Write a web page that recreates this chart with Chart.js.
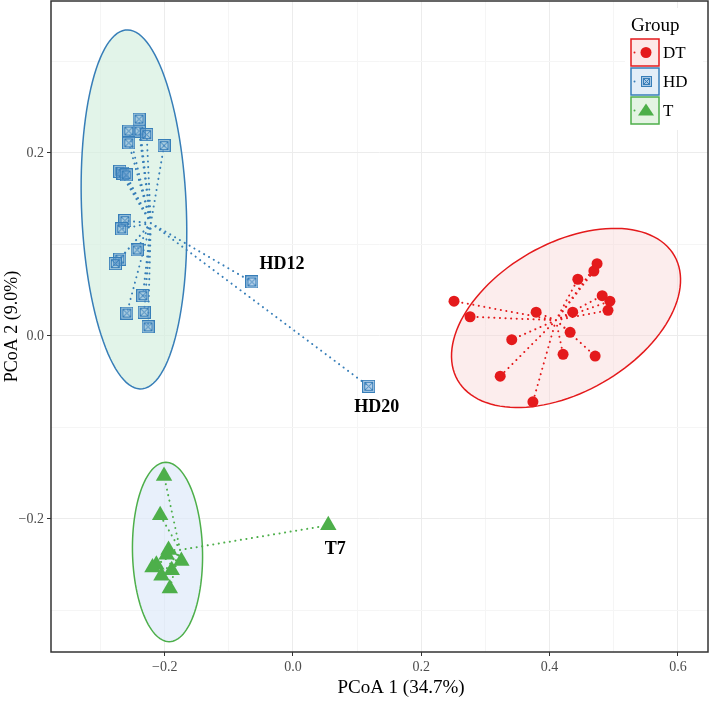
<!DOCTYPE html>
<html>
<head>
<meta charset="utf-8">
<script src="https://cdn.jsdelivr.net/npm/chart.js@4"></script>
<style>
  html, body { margin: 0; padding: 0; background: #fff; }
  #wrap { width: 709px; height: 719px; }
</style>
</head>
<body>
<div id="wrap"><canvas id="myChart" width="709" height="719"></canvas></div>
<script>
// PCoA coordinates per group
const groups = ['DT', 'HD', 'T'];

const dtX = [0.251, 0.276, 0.379, 0.436, 0.444, 0.469, 0.474, 0.482, 0.494, 0.491, 0.432, 0.341, 0.421, 0.471, 0.323, 0.374];
const dtY = [0.038, 0.021, 0.026, 0.026, 0.062, 0.071, 0.079, 0.044, 0.038, 0.028, 0.004, -0.004, -0.020, -0.022, -0.044, -0.072];

const hdX = [-0.240, -0.256, -0.240, -0.228, -0.256, -0.201, -0.270, -0.265, -0.260, -0.262, -0.267, -0.243, -0.270, -0.277, -0.234, -0.259, -0.232, -0.226, -0.064, 0.118];
const hdY = [0.237, 0.224, 0.224, 0.220, 0.211, 0.208, 0.180, 0.178, 0.176, 0.126, 0.117, 0.094, 0.084, 0.079, 0.044, 0.025, 0.026, 0.010, 0.059, -0.055];
const hdNames = ['', '', '', '', '', '', '', '', '', '', '', '', '', '', '', '', '', '', 'HD12', 'HD20'];

const tX = [-0.201, -0.207, 0.055, -0.194, -0.213, -0.219, -0.174, -0.189, -0.205, -0.192, -0.197];
const tY = [-0.153, -0.196, -0.207, -0.234, -0.250, -0.253, -0.246, -0.256, -0.262, -0.276, -0.239];
const tNames = ['', '', 'T7', '', '', '', '', '', '', '', ''];

// 95% ellipses: centre and the two half-axis vectors, in data units
const ellipseCx = [0.4256, -0.2479, -0.1956];
const ellipseCy = [0.0197, 0.1383, -0.2361];
const ellipseU = [[0.1690, 0.0679], [-0.0094, 0.1962], [-0.0026, 0.0980]];
const ellipseV = [[0.0575, -0.0705], [0.0818, -0.0020], [0.0546, 0.0000]];

const xTicks = [-0.2, 0.0, 0.2, 0.4, 0.6];
const yTicks = [-0.2, 0.0, 0.2];
const xTitle = 'PCoA 1 (34.7%)';
const yTitle = 'PCoA 2 (9.0%)';

// styling
const lineCol = ['#e41a1c', '#377eb8', '#4daf4a'];
const ellipseFill = ['rgba(249,215,215,0.45)', 'rgba(214,240,224,0.7)', 'rgba(222,234,250,0.7)'];
const keyFill = ['#fde8e8', '#e3eef8', '#e4f4e3'];
const labelOffset = { HD12: [30, -18], HD20: [8, 21], T7: [7, 24] };
const serif = '"Liberation Serif", "Times New Roman", serif';
const panel = { left: 51, top: 1, right: 708, bottom: 652 };

function toPoints(xs, ys) {
  return xs.map((x, i) => ({ x: x, y: ys[i] }));
}
function spider(xs, ys) {
  const cx = xs.reduce((a, b) => a + b, 0) / xs.length;
  const cy = ys.reduce((a, b) => a + b, 0) / ys.length;
  const out = [];
  xs.forEach((x, i) => {
    out.push({ x: cx, y: cy }, { x: x, y: ys[i] }, { x: cx, y: NaN });
  });
  return out;
}

// square-cross marker for HD
function squareCross(size) {
  const c = document.createElement('canvas');
  c.width = size; c.height = size;
  const g = c.getContext('2d');
  g.fillStyle = 'rgba(120,170,215,0.55)';
  g.fillRect(0, 0, size, size);
  g.strokeStyle = '#377eb8';
  g.lineWidth = 1;
  g.strokeRect(0.5, 0.5, size - 1, size - 1);
  g.strokeRect(2.5, 2.5, size - 5, size - 5);
  g.beginPath();
  g.moveTo(2.5, 2.5); g.lineTo(size - 2.5, size - 2.5);
  g.moveTo(size - 2.5, 2.5); g.lineTo(2.5, size - 2.5);
  g.stroke();
  return c;
}
const hdMarker = squareCross(13);
const hdKeyMarker = squareCross(11);

const isMajor = (v) => Math.abs(Math.round(v * 10)) % 2 === 0;
const fmt = (v) => {
  const s = (Math.round(v * 10) / 10).toFixed(1);
  return s.startsWith('-') ? '\u2212' + s.slice(1) : s;
};
// minor ticks keep their grid line but get an empty (zero-size) label
const tickLabel = (list) => (v) => (list.some((t) => Math.abs(t - v) < 1e-6) ? fmt(v) : []);

// pin the panel to where the original has it
const panelPlugin = {
  id: 'panel',
  afterLayout(chart) {
    const ca = chart.chartArea, xs = chart.scales.x, ys = chart.scales.y;
    ca.left = panel.left; ca.right = panel.right; ca.top = panel.top; ca.bottom = panel.bottom;
    ca.width = panel.right - panel.left; ca.height = panel.bottom - panel.top;
    xs.left = panel.left; xs.right = panel.right; xs.width = ca.width; xs.top = panel.bottom;
    xs.configure();
    ys.top = panel.top; ys.bottom = panel.bottom; ys.height = ca.height; ys.right = panel.left;
    ys.configure();
  }
};

const ellipsePlugin = {
  id: 'ellipses',
  beforeDatasetsDraw(chart) {
    const { ctx, chartArea: a, scales: { x: xs, y: ys } } = chart;
    ctx.save();
    ctx.beginPath();
    ctx.rect(a.left, a.top, a.right - a.left, a.bottom - a.top);
    ctx.clip();
    groups.forEach((g, k) => {
      ctx.beginPath();
      for (let i = 0; i <= 120; i++) {
        const t = (i / 120) * Math.PI * 2;
        const vx = ellipseCx[k] + ellipseU[k][0] * Math.cos(t) + ellipseV[k][0] * Math.sin(t);
        const vy = ellipseCy[k] + ellipseU[k][1] * Math.cos(t) + ellipseV[k][1] * Math.sin(t);
        const px = xs.getPixelForValue(vx), py = ys.getPixelForValue(vy);
        if (i === 0) ctx.moveTo(px, py); else ctx.lineTo(px, py);
      }
      ctx.closePath();
      ctx.fillStyle = ellipseFill[k];
      ctx.fill();
      ctx.strokeStyle = lineCol[k];
      ctx.lineWidth = 1.5;
      ctx.stroke();
    });
    ctx.restore();
  }
};

const overlayPlugin = {
  id: 'overlay',
  afterDraw(chart) {
    const { ctx, chartArea: a, scales: { x: xs, y: ys } } = chart;
    ctx.save();
    // sample labels
    ctx.font = 'bold 18px ' + serif;
    ctx.fillStyle = '#000';
    ctx.textAlign = 'center';
    ctx.textBaseline = 'middle';
    [[hdX, hdY, hdNames], [tX, tY, tNames]].forEach(([xsA, ysA, names]) => {
      names.forEach((n, i) => {
        if (!n) return;
        const off = labelOffset[n];
        ctx.fillText(n, xs.getPixelForValue(xsA[i]) + off[0], ys.getPixelForValue(ysA[i]) + off[1]);
      });
    });

    // x axis title (sits a little right of the panel centre in the original)
    ctx.font = '19px ' + serif;
    ctx.fillText(xTitle, 401, 688);

    // legend
    const lx = 631, ly = 39, bw = 28, bh = 27, gap = 2;
    ctx.fillStyle = '#fff';
    ctx.fillRect(625, 8, 78, 122);
    ctx.font = '19px ' + serif;
    ctx.fillStyle = '#000';
    ctx.textAlign = 'left';
    ctx.fillText('Group', lx, 26);
    ctx.font = '17px ' + serif;
    groups.forEach((g, k) => {
      const top = ly + k * (bh + gap);
      const cy = top + bh / 2;
      ctx.fillStyle = keyFill[k];
      ctx.fillRect(lx, top, bw, bh);
      ctx.strokeStyle = lineCol[k];
      ctx.lineWidth = 1.5;
      ctx.strokeRect(lx, top, bw, bh);
      ctx.fillStyle = lineCol[k];
      ctx.beginPath();
      ctx.arc(lx + 3.5, cy, 1, 0, Math.PI * 2);
      ctx.fill();
      const mx = lx + bw / 2 + 1;
      if (k === 0) {
        ctx.beginPath();
        ctx.arc(mx, cy, 5.5, 0, Math.PI * 2);
        ctx.fill();
      } else if (k === 1) {
        ctx.drawImage(hdKeyMarker, Math.round(mx - 5.5), Math.round(cy - 5.5));
      } else {
        ctx.beginPath();
        ctx.moveTo(mx, cy - 7);
        ctx.lineTo(mx + 8, cy + 5);
        ctx.lineTo(mx - 8, cy + 5);
        ctx.closePath();
        ctx.fill();
      }
      ctx.fillStyle = '#000';
      ctx.fillText(g, lx + bw + 4, cy + 1);
    });

    // panel border
    ctx.strokeStyle = '#333';
    ctx.lineWidth = 1.5;
    ctx.strokeRect(a.left, a.top, a.right - a.left, a.bottom - a.top);
    ctx.restore();
  }
};

const ctx = document.getElementById('myChart').getContext('2d');
new Chart(ctx, {
  type: 'scatter',
  data: {
    datasets: [
      { data: spider(dtX, dtY), showLine: true, spanGaps: false, borderColor: lineCol[0], borderWidth: 2, borderDash: [0.1, 5.5], borderCapStyle: 'round', pointRadius: 0, order: 2 },
      { data: spider(hdX, hdY), showLine: true, spanGaps: false, borderColor: lineCol[1], borderWidth: 2, borderDash: [0.1, 5.5], borderCapStyle: 'round', pointRadius: 0, order: 2 },
      { data: spider(tX, tY), showLine: true, spanGaps: false, borderColor: lineCol[2], borderWidth: 2, borderDash: [0.1, 5.5], borderCapStyle: 'round', pointRadius: 0, order: 2 },
      { label: 'DT', data: toPoints(dtX, dtY), pointStyle: 'circle', pointRadius: 5.5, backgroundColor: lineCol[0], borderColor: lineCol[0], borderWidth: 0, order: 1 },
      { label: 'HD', data: toPoints(hdX, hdY), pointStyle: hdMarker, pointRadius: 6, order: 1 },
      { label: 'T', data: toPoints(tX, tY), pointStyle: 'triangle', pointRadius: 9.5, backgroundColor: lineCol[2], borderColor: lineCol[2], borderWidth: 0, order: 1 },
    ],
  },
  options: {
    responsive: false,
    animation: false,
    devicePixelRatio: 1,
    layout: { padding: { top: 1, right: 1, left: 0, bottom: 0 } },
    scales: {
      x: {
        type: 'linear',
        min: -0.3772,
        max: 0.6469,
        afterFit: (s) => { s.height = 67; },
        border: { display: false },
        grid: {
          color: (c) => (isMajor(c.tick.value) ? '#ececec' : '#f5f5f5'),
          tickColor: (c) => (isMajor(c.tick.value) ? '#333' : 'rgba(0,0,0,0)'),
          tickLength: 4,
          lineWidth: 1,
        },
        ticks: {
          stepSize: 0.1,
          includeBounds: false,
          autoSkip: false,
          maxRotation: 0,
          padding: 3,
          color: '#4d4d4d',
          font: { family: serif, size: 14 },
          callback: tickLabel(xTicks),
        },
        title: { display: false },
      },
      y: {
        type: 'linear',
        min: -0.3454,
        max: 0.3661,
        afterFit: (s) => { s.width = 51; },
        border: { display: false },
        grid: {
          color: (c) => (isMajor(c.tick.value) ? '#ececec' : '#f5f5f5'),
          tickColor: (c) => (isMajor(c.tick.value) ? '#333' : 'rgba(0,0,0,0)'),
          tickLength: 4,
          lineWidth: 1,
        },
        ticks: {
          stepSize: 0.1,
          includeBounds: false,
          autoSkip: false,
          padding: 3,
          color: '#4d4d4d',
          font: { family: serif, size: 14 },
          callback: tickLabel(yTicks),
        },
        title: { display: true, text: yTitle, color: '#000', font: { family: serif, size: 18 }, padding: { top: 1, bottom: 0 } },
      },
    },
    plugins: {
      legend: { display: false },
      tooltip: { enabled: false },
    },
  },
  plugins: [
    panelPlugin,
    ellipsePlugin,
    overlayPlugin,
    {
      id: 'white_bg',
      beforeDraw: (chart) => {
        const c = chart.ctx;
        c.save();
        c.fillStyle = 'white';
        c.fillRect(0, 0, chart.width, chart.height);
        c.restore();
      },
    },
  ],
});
</script>
</body>
</html>
